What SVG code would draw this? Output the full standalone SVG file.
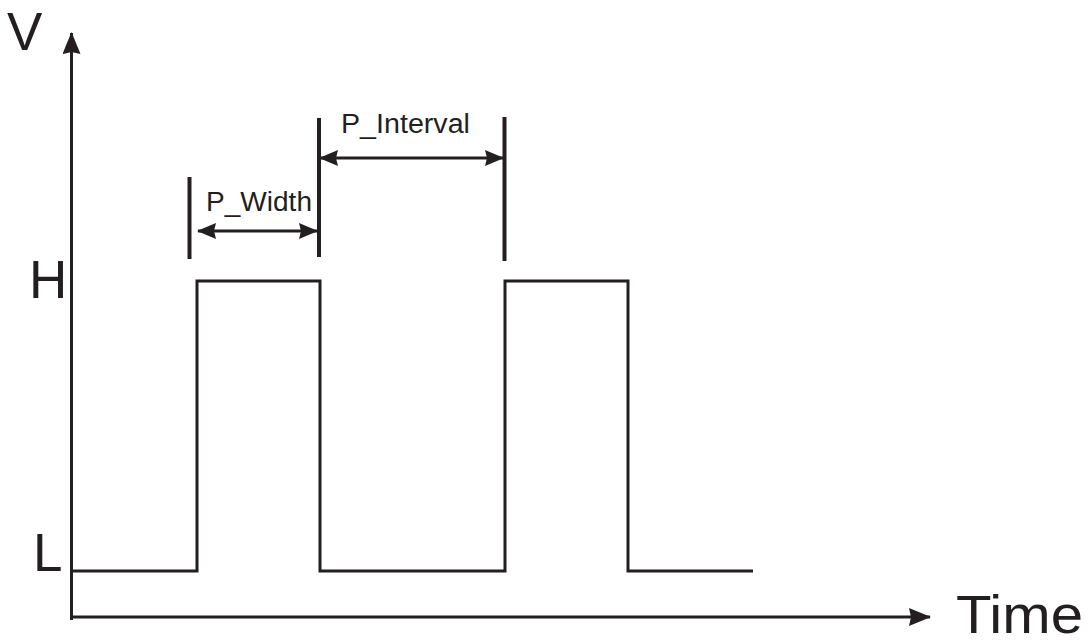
<svg xmlns="http://www.w3.org/2000/svg" width="1089" height="642" viewBox="0 0 1089 642">
<style>
.ln{stroke:#231f20;stroke-width:3;fill:none}
.bar{stroke:#231f20;stroke-width:4;fill:none}
.ax{stroke:#231f20;stroke-width:3;fill:none}
.big{font-family:"Liberation Sans",Arial,sans-serif;font-size:53px;fill:#231f20}
.sm{font-family:"Liberation Sans",Arial,sans-serif;font-size:27px;fill:#231f20}
</style>
<defs>
<marker id="ah" viewBox="0 0 22 18" refX="21" refY="9" markerWidth="22" markerHeight="18" markerUnits="userSpaceOnUse" orient="auto-start-reverse">
<path d="M0,0 L22,9 L0,18 L2,9 Z" fill="#231f20"/>
</marker>
<marker id="dh" viewBox="0 0 19 16" refX="18" refY="8" markerWidth="19" markerHeight="16" markerUnits="userSpaceOnUse" orient="auto-start-reverse">
<path d="M0,0 L19,8 L0,16 L2,8 Z" fill="#231f20"/>
</marker>
</defs>
<rect width="1089" height="642" fill="#ffffff"/>
<g id="axes">
<line class="ax" x1="71.5" y1="620" x2="71.5" y2="33" marker-end="url(#ah)"/>
<line class="ax" x1="70" y1="617" x2="930" y2="617" marker-end="url(#ah)"/>
</g>
<g id="labels">
<text class="big" x="7" y="50">V</text>
<text class="big" x="29" y="298">H</text>
<text class="big" x="33" y="571">L</text>
<text class="big" x="956" y="633" textLength="127" lengthAdjust="spacingAndGlyphs">Time</text>
</g>
<g id="waveform">
<polyline class="ln" points="73,571 197,571 197,281 320,281 320,571 505,571 505,281 628,281 628,571 753,571"/>
</g>
<g id="p-width">
<line class="bar" x1="189.5" y1="177" x2="189.5" y2="259"/>
<line class="bar" x1="319" y1="118" x2="319" y2="257"/>
<line class="ln" x1="198" y1="231" x2="317" y2="231" marker-start="url(#dh)" marker-end="url(#dh)"/>
<text class="sm" x="206" y="211" textLength="106" lengthAdjust="spacingAndGlyphs">P_Width</text>
</g>
<g id="p-interval">
<line class="bar" x1="504.5" y1="117" x2="504.5" y2="261"/>
<line class="ln" x1="320" y1="158" x2="503" y2="158" marker-start="url(#dh)" marker-end="url(#dh)"/>
<text class="sm" x="341" y="133" textLength="129" lengthAdjust="spacingAndGlyphs">P_Interval</text>
</g>
</svg>
